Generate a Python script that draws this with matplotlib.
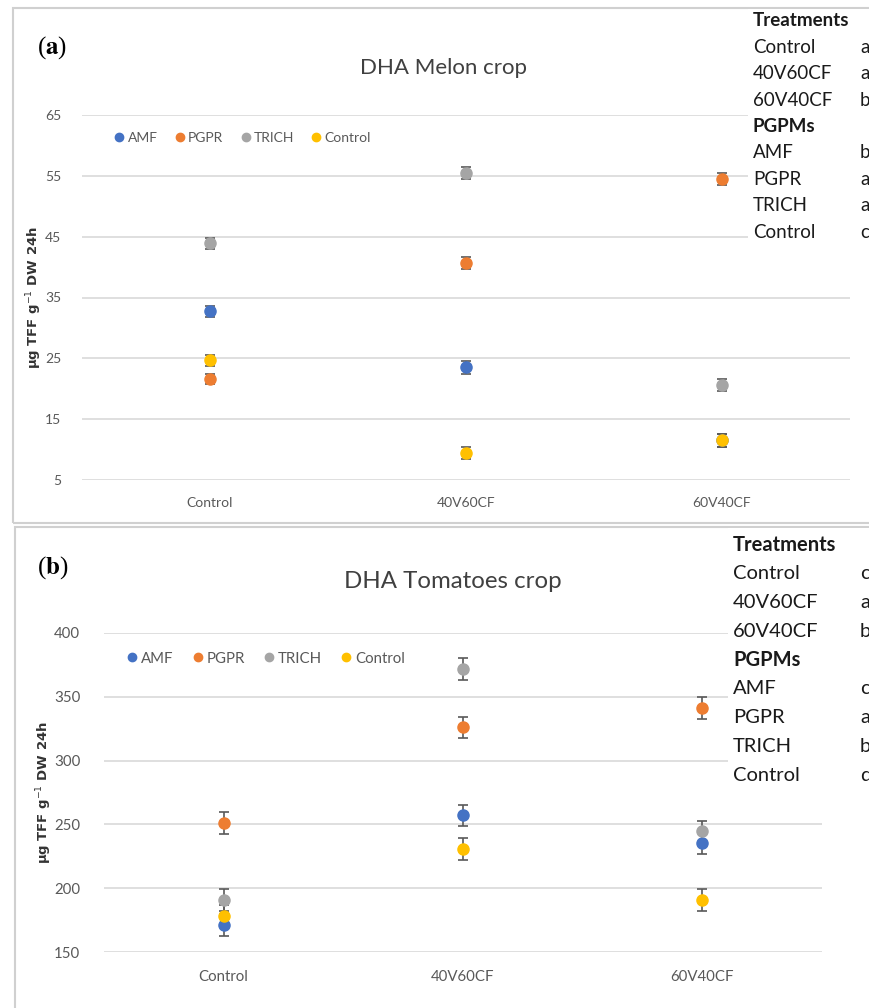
import matplotlib
matplotlib.use('Agg')
import matplotlib.pyplot as plt
from matplotlib.lines import Line2D
from matplotlib.patches import Rectangle

# Categories / series
categories = ['Control', '40V60CF', '60V40CF']
series_names = ['AMF', 'PGPR', 'TRICH', 'Control']
series_colors = ['#4472C4', '#ED7D31', '#A5A5A5', '#FFC000']

# (a) Melon
melon_amf = [32.7, 23.5, 11.5]
melon_pgpr = [21.6, 40.7, 54.5]
melon_trich = [43.9, 55.5, 20.6]
melon_control = [24.7, 9.5, 11.5]
melon_err = [0.9, 1.0, 1.0]

# (b) Tomatoes
tomato_amf = [171.0, 257.0, 235.5]
tomato_pgpr = [251.0, 326.0, 341.0]
tomato_trich = [190.5, 372.0, 244.5]
tomato_control = [178.5, 230.5, 191.0]
tomato_err = [8.5, 8.5, 8.5]

# letters tables
treat_names = ['Control', '40V60CF', '60V40CF']
pgpm_names = ['AMF', 'PGPR', 'TRICH', 'Control']
melon_treat_letters = ['a', 'a', 'b']
melon_pgpm_letters = ['b', 'a', 'a', 'c']
tomato_treat_letters = ['c', 'a', 'b']
tomato_pgpm_letters = ['c', 'a', 'b', 'd']

W, H = 870, 1008
fig = plt.figure(figsize=(W / 100, H / 100), dpi=100)


def fx(px):
    return px / W


def fy(py):
    return 1 - py / H


def box(px0, py0, px1, py1, **kw):
    r = Rectangle((fx(px0), fy(py1)), fx(px1) - fx(px0), fy(py0) - fy(py1),
                  transform=fig.transFigure, **kw)
    fig.add_artist(r)


# panel borders
box(13, 8, 880, 523, fill=False, edgecolor='#D0D0D0', lw=1.5, zorder=0)
box(15, 527, 880, 1020, fill=False, edgecolor='#D0D0D0', lw=1.5, zorder=0)


def draw_panel(rect, values, errs, ylim, step, title, title_xy, tag_xy, leg_xy,
               ylab_x, tick_pad, fs):
    ax = fig.add_axes(rect)
    x = list(range(len(categories)))
    for name, col, vals in zip(series_names, series_colors, values):
        ax.errorbar(x, vals, yerr=errs, fmt='o', color=col, ms=8,
                    ecolor='#595959', elinewidth=1.2, capsize=3.5,
                    capthick=1.2, zorder=3)
    ax.set_xlim(-0.5, 2.5)
    ax.set_ylim(*ylim)
    ax.set_yticks(range(ylim[0], ylim[1] + 1, step))
    ax.set_xticks(x)
    ax.set_xticklabels(categories)
    ax.grid(axis='y', color='#D9D9D9', lw=1.2)
    ax.set_axisbelow(True)
    for s in ax.spines.values():
        s.set_visible(False)
    ax.tick_params(length=0, labelcolor='#595959', labelsize=fs)
    ax.tick_params(axis='y', pad=tick_pad[0])
    ax.tick_params(axis='x', pad=tick_pad[1])
    for lab in ax.get_xticklabels() + ax.get_yticklabels():
        lab.set_family('Lato')
    ax.set_ylabel(r'$\mathbf{\mu}$g TFF g$^{-1}$ DW 24h', fontsize=9.5,
                  fontweight='bold', color='#333333', family='DejaVu Sans')
    ax.yaxis.set_label_coords(ylab_x, 0.5)
    ax.patch.set_alpha(0)

    handles = [Line2D([], [], marker='o', ls='', color=c, ms=6)
               for c in series_colors]
    leg = ax.legend(handles, series_names, ncol=4, frameon=False,
                    loc='center left', bbox_to_anchor=leg_xy,
                    borderaxespad=0, borderpad=0, handlelength=0.6,
                    handletextpad=0.3, columnspacing=1.3,
                    prop={'family': 'Lato', 'size': fs})
    for t in leg.get_texts():
        t.set_color('#595959')

    fig.text(fx(title_xy[0]), fy(title_xy[1]), title, ha='center', va='center',
             fontsize=fs * 1.6, color='#404040', family='Lato')
    fig.text(fx(tag_xy[0]), fy(tag_xy[1]), '(' + r'$\mathbf{' + tag_xy[2] + '}$' + ')',
             ha='left', va='center', fontsize=18, family='Liberation Serif',
             math_fontfamily='stix')
    return ax


ax_a = draw_panel([fx(82), fy(480), fx(850) - fx(82), fy(115) - fy(480)],
                  [melon_amf, melon_pgpr, melon_trich, melon_control], melon_err,
                  (5, 65), 10, 'DHA Melon crop', (444, 68), (37, 48, 'a'),
                  (0.043, 0.937), -0.049, (15, 12), 10)
ax_b = draw_panel([fx(104), fy(952), fx(822) - fx(104), fy(633) - fy(952)],
                  [tomato_amf, tomato_pgpr, tomato_trich, tomato_control], tomato_err,
                  (150, 400), 50, 'DHA Tomatoes crop', (453, 582), (37, 568, 'b'),
                  (0.033, 0.92), -0.07, (17, 13), 10.8)


def letters_table(x0, y0, dy, xl, fs, t_letters, p_letters):
    rows = [('Treatments', '', True)]
    rows += [(n, l, False) for n, l in zip(treat_names, t_letters)]
    rows += [('PGPMs', '', True)]
    rows += [(n, l, False) for n, l in zip(pgpm_names, p_letters)]
    for i, (n, l, bold) in enumerate(rows):
        y = y0 + i * dy
        fig.text(fx(x0), fy(y), n, ha='left', va='center', fontsize=fs,
                 family='Lato', fontweight='bold' if bold else 'normal',
                 color='#1a1a1a', zorder=6)
        if l:
            fig.text(fx(xl), fy(y), l, ha='left', va='center', fontsize=fs,
                     family='Lato', color='#1a1a1a', zorder=6)


box(748, 9, 880, 250, facecolor='white', edgecolor='none', zorder=5)
box(728, 528, 880, 790, facecolor='white', edgecolor='none', zorder=5)
letters_table(753, 21, 26.4, 860, 13.5, melon_treat_letters, melon_pgpm_letters)
letters_table(733, 545, 28.8, 860, 14.5, tomato_treat_letters, tomato_pgpm_letters)

fig.savefig('out.png', dpi=100)
